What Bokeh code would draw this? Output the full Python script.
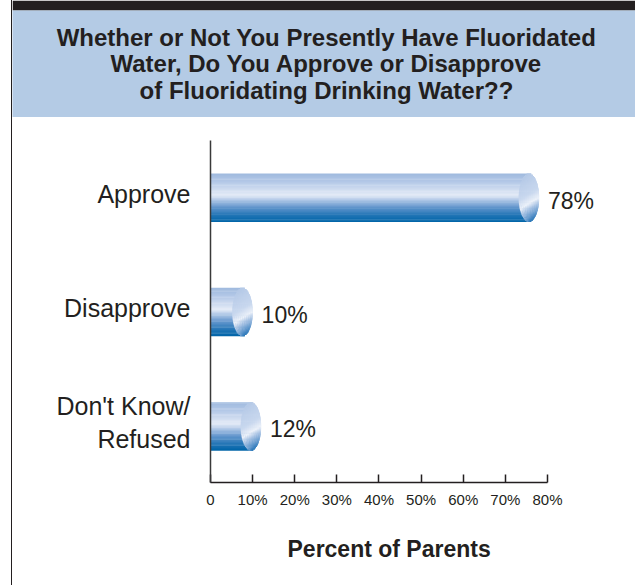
import numpy as np
from bokeh.plotting import figure
from bokeh.models import Range1d, FixedTicker, Title, LabelSet, ColumnDataSource
from bokeh.layouts import column
from bokeh.core.properties import value
from bokeh.embed import file_html
from bokeh.resources import INLINE

# ---------------- data ----------------
title_lines = [
    "Whether or Not You Presently Have Fluoridated",
    "Water, Do You Approve or Disapprove",
    "of Fluoridating Drinking Water??",
]
categories = ["Approve", "Disapprove", "Don't Know/\nRefused"]
values = [78, 10, 12]
x_ticks = [0, 10, 20, 30, 40, 50, 60, 70, 80]
x_tick_labels = ["0", "10%", "20%", "30%", "40%", "50%", "60%", "70%", "80%"]
x_axis_title = "Percent of Parents"

# ---------------- style ----------------
TEXT = "#231f20"
HEADER_BG = "#b4cbe5"
SANS = "Liberation Sans"

BODY_STOPS = [
    (0.00, (160, 186, 222)),
    (0.15, (176, 198, 230)),
    (0.38, (214, 225, 242)),
    (0.45, (228, 235, 247)),
    (0.52, (192, 210, 236)),
    (0.70, (100, 150, 205)),
    (0.88, (30, 115, 180)),
    (1.00, (0, 100, 168)),
]
FACE_STOPS = [
    (0.00, (182, 202, 231)),
    (0.35, (200, 215, 238)),
    (0.50, (236, 241, 249)),
    (0.60, (172, 197, 229)),
    (0.80, (70, 135, 195)),
    (1.00, (10, 100, 168)),
]


def grad(stops, t):
    t = np.atleast_1d(np.asarray(t, dtype=float))
    xs = [s[0] for s in stops]
    r, g, b = (np.interp(t, xs, [s[1][ch] for s in stops]) for ch in range(3))
    return ["#%02x%02x%02x" % (int(round(a)), int(round(c)), int(round(d)))
            for a, c, d in zip(r, g, b)]


# ---------------- header ----------------
header = figure(width=623, height=117, x_range=Range1d(0, 1), y_range=Range1d(0, 1),
                x_axis_type=None, y_axis_type=None, toolbar_location=None,
                output_backend="svg", min_border_left=0, min_border_right=0,
                min_border_bottom=0, min_border_top=10, frame_align=False,
                background_fill_color=HEADER_BG, border_fill_color=TEXT,
                outline_line_color=None)
header.text(x=[0.504], y=[0.5], text=["\n".join(title_lines)],
            text_align="center", text_baseline="middle",
            text_font=value(SANS), text_font_style="bold",
            text_font_size="24px", text_line_height=0.98, text_color=TEXT)

# ---------------- main chart ----------------
n = len(categories)
pos = [n - 1 - i for i in range(n)]

main = figure(width=623, height=468, x_range=Range1d(0, 100.9), y_range=Range1d(-0.49, 2.5),
              toolbar_location=None, output_backend="svg", frame_align=False,
              min_border_left=198, min_border_right=0, min_border_top=23,
              min_border_bottom=103, outline_line_color=None,
              background_fill_color="white", border_fill_color="white")
main.grid.visible = False

H = 0.42       # bar thickness (y data units)
CAP = 2.4      # cap ellipse semi-axis (x data units)
N = 40
M = 10
t = (np.arange(N) + 0.5) / N
half = np.sqrt(1 - (2 * t - 1) ** 2)
body_cols = grad(BODY_STOPS, t)
eps_y = H / N * 0.15
eps_x = 0.04

L, R, T, B, C = [], [], [], [], []
for v, yc in zip(values, pos):
    cx = v - CAP
    for k in range(N):
        top = yc + H / 2 - k * H / N
        bot = top - H / N
        w = CAP * half[k]
        L.append(0); R.append(cx + w); T.append(top + eps_y); B.append(bot - eps_y)
        C.append(body_cols[k])
    for k in range(N):
        top = yc + H / 2 - k * H / N
        bot = top - H / N
        w = CAP * half[k]
        xe = cx - w + np.arange(M + 1) * 2 * w / M
        xn = (np.arange(M) + 0.5) / M
        d = np.clip(0.8 * t[k] + 0.2 * (xn - 0.5), 0, 1)
        cols = grad(FACE_STOPS, d)
        for j in range(M):
            L.append(xe[j] - eps_x); R.append(xe[j + 1] + eps_x)
            T.append(top + eps_y); B.append(bot - eps_y)
            C.append(cols[j])

main.quad(left=L, right=R, top=T, bottom=B, fill_color=C, line_color=None)

src = ColumnDataSource(dict(x=values, y=pos, text=[f"{v}%" for v in values]))
main.add_layout(LabelSet(x="x", y="y", text="text", source=src, x_offset=9, y_offset=-3,
                         text_align="left", text_baseline="middle",
                         text_font=value(SANS), text_font_size="23px", text_color=TEXT))

xa = main.xaxis[0]
xa.ticker = FixedTicker(ticks=x_ticks)
xa.bounds = (x_ticks[0], x_ticks[-1])
xa.major_label_overrides = dict(zip(x_ticks, x_tick_labels))
xa.major_tick_in = 8
xa.major_tick_out = 0
xa.minor_tick_line_color = None
xa.axis_line_color = TEXT
xa.axis_line_width = 1.5
xa.major_tick_line_color = TEXT
xa.major_tick_line_width = 1.5
xa.major_label_text_font = SANS
xa.major_label_text_font_size = "15px"
xa.major_label_text_color = TEXT
xa.major_label_standoff = 8

ytick = [p + 0.035 for p in pos]
ya = main.yaxis[0]
ya.ticker = FixedTicker(ticks=ytick)
ya.major_label_overrides = {tk: c for tk, c in zip(ytick, categories)}
ya.major_tick_line_color = None
ya.major_tick_in = 0
ya.major_tick_out = 0
ya.minor_tick_line_color = None
ya.axis_line_color = "#3a3a3a"
ya.axis_line_width = 1.5
ya.major_label_text_font = SANS
ya.major_label_text_font_size = "25px"
ya.major_label_text_color = TEXT
ya.major_label_standoff = 20

main.add_layout(Title(text=x_axis_title, align="left", offset=77,
                      text_font=SANS, text_font_size="23px", text_font_style="bold",
                      text_color=TEXT, standoff=46), "below")

layout = column(header, main,
                styles={"margin-left": "11px", "border-left": "1px solid #231f20"})

with open("out.html", "w") as f:
    f.write(file_html(layout, INLINE))
